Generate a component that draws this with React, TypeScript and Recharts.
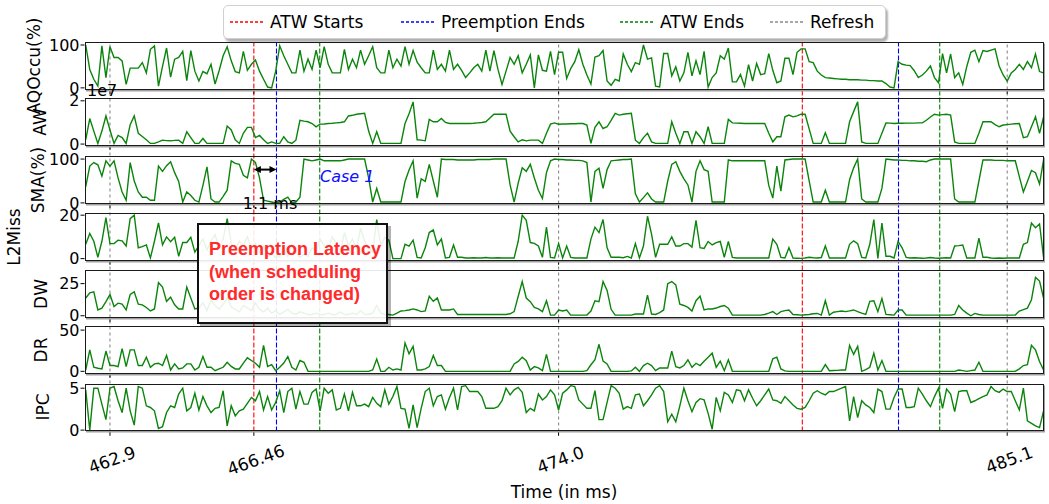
import React from "react"
import { LineChart, Line, XAxis, YAxis, ReferenceLine } from "recharts"

// trace is sampled every 0.1 ms starting at 462.3 ms
const T_START = 462.3
const T_STEP = 0.1
const X_DOMAIN: [number, number] = [462.27, 486.0]

const xTicks = [462.9, 466.46, 474.0, 485.1]
const xTickLabels = ["462.9", "466.46", "474.0", "485.1"]

// event markers (ms)
const atwStarts = [466.46, 480.03]
const preemptionEnds = [467.02, 482.41]
const atwEnds = [468.09, 483.43]
const refreshes = [462.9, 474.0, 485.1]
const legendNames = ["ATW Starts", "Preemption Ends", "ATW Ends", "Refresh"]

const panelNames = ["AQOccu(%)", "AW", "SMA(%)", "L2Miss", "DW", "DR", "IPC"]
const panelTicks = [[0, 100], [0, 2], [0, 100], [0, 20], [0, 25], [0, 50], [0, 5]]
const panelDomains: [number, number][] = [[-4.5, 107], [-0.08, 2.13], [-2, 107], [-1, 21], [-1.6, 35.6], [-3, 55], [-0.2, 5.5]]

const annotationLines = ["Preemption Latency", "(when scheduling", "order is changed)"]
const latencyLabel = "1.1 ms"
const caseLabel = "Case 1"
const latencyArrowLevel = 76 // SMA(%) level of the double arrow

const aqOccu = [
  100, 43, 20, 4, 98, 24, 96, 71, 71, 63,
  8, 46, 46, 46, 59, 35, 90, 98, 4, 50,
  93, 25, 67, 71, 85, 17, 87, 39, 16, 38,
  33, 55, 9, 40, 75, 96, 63, 38, 35, 85,
  41, 55, 65, 39, 20, 2, 0, 39, 98, 75,
  55, 35, 35, 88, 39, 67, 43, 88, 47, 96,
  55, 35, 35, 35, 90, 43, 67, 47, 88, 55,
  75, 96, 47, 35, 35, 88, 47, 67, 51, 96,
  55, 87, 60, 47, 35, 35, 88, 43, 55, 39,
  88, 43, 55, 41, 24, 35, 47, 55, 39, 88,
  39, 87, 43, 8, 39, 71, 55, 75, 35, 55,
  77, 0, 77, 41, 39, 85, 31, 83, 83, 22,
  45, 61, 89, 55, 30, 9, 72, 75, 87, 16,
  6, 20, 16, 79, 55, 38, 59, 55, 100, 67,
  70, 4, 2, 80, 80, 28, 49, 16, 35, 83,
  28, 63, 31, 85, 2, 24, 35, 75, 67, 93,
  14, 14, 31, 4, 54, 16, 57, 31, 33, 80,
  41, 12, 16, 69, 69, 31, 83, 91, 91, 61,
  59, 39, 30, 24, 23, 22, 21, 20, 20, 19,
  19, 19, 18, 18, 17, 17, 16, 16, 10, 2,
  0, 61, 55, 53, 52, 40, 24, 30, 39, 51,
  24, 12, 80, 35, 79, 24, 35, 8, 50, 83,
  88, 61, 87, 85, 88, 91, 51, 30, 16, 35,
  43, 55, 43, 61, 47, 79, 38, 35,
]

// AW in units of 1e7
const awE7 = [
  0.2, 1.18, 0.6, 0.03, 0.6, 1.3, 0.65, 0.03, 0.4, 0.3,
  0.03, 0.9, 1.3, 0.5, 0.35, 0.2, 0.03, 0.03, 0.1, 0.18,
  0.16, 0.15, 0.17, 0.18, 0.03, 0.57, 0.3, 0.03, 0.03, 0.26,
  0.03, 0.03, 0.03, 0.03, 0.03, 0.83, 0.65, 0.2, 0.03, 0.5,
  0.77, 0.77, 0.3, 0.4, 0.2, 0.03, 0.1, 0.03, 0.03, 0.34,
  0.1, 0.03, 0.18, 1.1, 1.06, 1.03, 0.95, 0.8, 0.92, 0.93,
  0.95, 0.96, 0.98, 1.0, 1.03, 1.3, 1.33, 1.38, 1.4, 1.42,
  0.6, 0.03, 0.57, 0.03, 0.03, 0.03, 0.03, 0.03, 0.03, 0.95,
  1.4, 1.95, 0.2, 0.18, 0.15, 1.14, 1.03, 1.03, 1.18, 1.0,
  0.95, 0.95, 0.95, 0.95, 0.95, 0.95, 0.96, 0.98, 1.0, 1.03,
  1.2, 1.38, 1.38, 1.38, 1.38, 0.6, 0.34, 0.1, 0.2, 0.15,
  0.18, 0.18, 0.18, 0.03, 0.5, 0.92, 0.98, 0.92, 0.93, 0.93,
  0.94, 0.94, 0.95, 0.95, 0.88, 0.03, 0.77, 1.03, 0.72, 0.8,
  1.1, 1.42, 1.34, 1.38, 1.4, 1.42, 0.18, 0.03, 0.3, 0.5,
  0.1, 0.03, 0.03, 0.03, 0.03, 1.03, 0.5, 0.03, 0.57, 0.57,
  0.03, 0.57, 0.34, 0.03, 0.8, 0.03, 0.03, 0.03, 0.03, 1.14,
  0.98, 0.97, 0.96, 0.95, 0.95, 0.95, 0.95, 0.95, 0.95, 0.5,
  0.1, 0.34, 0.34, 1.26, 1.34, 1.26, 1.3, 1.38, 1.38, 0.7,
  0.03, 0.03, 0.03, 0.52, 0.03, 0.03, 0.03, 0.03, 0.03, 1.03,
  1.5, 1.95, 0.1, 0.03, 0.03, 0.03, 0.03, 0.5, 0.98, 0.97,
  0.95, 0.96, 0.96, 0.97, 0.97, 0.97, 0.98, 0.98, 1.1, 1.25,
  1.38, 1.34, 1.36, 1.38, 1.34, 0.1, 0.03, 0.03, 0.03, 0.03,
  0.03, 0.5, 1.03, 1.03, 1.03, 0.9, 0.8, 0.88, 0.9, 0.92,
  0.94, 0.95, 0.3, 0.34, 0.8, 1.26, 0.5, 1.25,
]

const sma = [
  37, 84, 92, 87, 61, 96, 84, 96, 57, 25,
  6, 92, 50, 25, 13, 13, 6, 6, 84, 72,
  85, 94, 69, 49, 2, 25, 17, 6, 2, 40,
  82, 9, 2, 2, 15, 29, 96, 90, 88, 63,
  57, 100, 92, 57, 6, 4, 2, 0, 2, 8,
  13, 0, 2, 13, 100, 98, 96, 98, 100, 96,
  96, 96, 96, 96, 98, 100, 100, 100, 100, 100,
  57, 2, 33, 2, 2, 2, 2, 2, 2, 49,
  75, 96, 11, 55, 49, 88, 50, 13, 100, 99,
  99, 99, 98, 98, 98, 98, 98, 99, 99, 99,
  99, 100, 100, 100, 100, 41, 2, 45, 80, 72,
  88, 57, 29, 10, 69, 96, 100, 99, 99, 98,
  98, 97, 97, 96, 92, 2, 72, 79, 33, 76,
  96, 97, 98, 99, 99, 100, 21, 2, 12, 23,
  9, 2, 2, 2, 50, 88, 94, 72, 55, 41,
  2, 72, 96, 76, 72, 2, 2, 2, 2, 98,
  96, 96, 96, 96, 96, 96, 96, 96, 96, 40,
  11, 84, 27, 98, 99, 100, 100, 100, 100, 50,
  2, 2, 2, 29, 2, 2, 2, 2, 2, 53,
  80, 100, 9, 2, 2, 2, 2, 33, 100, 99,
  98, 98, 97, 97, 96, 96, 95, 95, 94, 98,
  100, 100, 100, 100, 100, 9, 2, 2, 2, 2,
  2, 50, 98, 98, 98, 97, 97, 97, 96, 96,
  96, 60, 25, 49, 74, 69, 43, 98,
]

const l2Miss = [
  6.6, 11.6, 8, 0.6, 8, 18.9, 6.9, 6.9, 8.5, 8.2,
  5.8, 18.4, 20, 5, 5.5, 6.3, 0.3, 8, 16.4, 6.3,
  10, 7.8, 9.8, 1.1, 7.4, 7.4, 9.8, 3, 6, 9,
  4, 8, 11, 5, 9, 18.4, 7, 4, 8, 6,
  10, 5, 7, 3, 6, 1, 2, 0.5, 1, 4,
  1, 6, 3, 0.5, 2, 1, 5, 3, 9, 6,
  4, 10, 7, 3, 12, 6, 9, 4, 14, 8,
  5, 3, 18, 6, 9.8, 8.5, 0, 0, 0, 6.6,
  5.8, 8.5, 0.6, 0.3, 5, 12, 13.2, 6.3, 9, 0.3,
  0.6, 6.3, 0.6, 0.6, 0.3, 0.3, 0.4, 0.3, 0.3, 0.5,
  0.3, 0.3, 0.4, 0.3, 0.3, 0.3, 0.3, 8, 20, 17.6,
  7.4, 7, 5.8, 0.6, 14.5, 0.6, 0.3, 6.9, 0.3, 5.8,
  0.6, 0.3, 0.3, 0.3, 0.3, 9, 14.5, 12, 18, 5,
  0.6, 0.6, 0.6, 0.4, 1, 0.3, 6.9, 0.3, 5.8, 19.5,
  11.3, 0.6, 6.6, 6.6, 6.6, 10, 5.8, 5.8, 6.9, 6.9,
  5.3, 17.6, 5, 4.7, 7.9, 6.3, 7.4, 7.9, 0.6, 7.9,
  0.6, 0.3, 0.3, 0.3, 0.3, 0.3, 0.3, 0.3, 0.3, 0.3,
  9, 6.6, 0.6, 0.3, 5, 0.3, 0.2, 0.1, 0.3, 0.6,
  0.4, 0.3, 0.5, 5.8, 0.3, 0.3, 0.3, 0.3, 0.3, 6.6,
  8.2, 6.9, 0.6, 0.3, 6.6, 18, 0.1, 16.4, 1.1, 1.1,
  0.3, 7.9, 5, 0.6, 0.3, 0.4, 0.3, 0.2, 0.3, 0.5,
  0.3, 0.2, 0.3, 0.4, 0.3, 5.8, 6, 6.3, 0.3, 0.3,
  0.3, 9.4, 0.6, 0.6, 0.3, 0.2, 0.3, 0.2, 0.3, 0.3,
  0.3, 0.3, 6.6, 7.4, 16.4, 14.2, 16, 0.6,
]

const dw = [
  13.8, 17.8, 18.6, 4.5, 5.9, 11, 16.5, 7.2, 9.8, 9,
  4.5, 16.5, 18.6, 9, 8.5, 6.4, 3.7, 5.3, 25.8, 22.3,
  11.2, 14.4, 8.5, 5.3, 5.3, 22.3, 13.8, 5.3, 6, 10,
  4, 12, 8, 5, 9, 14, 7, 5, 3, 8,
  6, 4, 10, 5, 3, 6, 2, 4, 1, 3,
  5, 2, 1, 3, 2, 1, 1, 2, 1, 1,
  2, 1, 1, 3, 1, 1, 2, 1, 4, 1,
  1, 2, 8, 2, 1, 1, 0.5, 2, 3.7, 4,
  4.5, 5.3, 4.5, 3.2, 3.7, 15.2, 11.2, 13.8, 4.5, 4.5,
  4.5, 5.3, 1, 1, 1, 1, 1, 1, 1, 1,
  1, 1, 1, 1, 1, 1.5, 3.2, 15, 26.6, 13.8,
  11, 6.4, 5.3, 3.2, 11.7, 0.5, 0.5, 4.5, 3.7, 4.5,
  0.5, 0.5, 0.5, 0.5, 0.5, 3.7, 11.7, 11, 26.6, 19.7,
  5, 0.5, 0.5, 0.5, 0.5, 0.5, 1.3, 1.3, 1.3, 16,
  1.3, 1, 2.5, 4.5, 25, 26.6, 24, 9, 8, 6.5,
  3.7, 11.7, 15.2, 4.5, 5.3, 5.3, 6, 7.2, 8, 5.9,
  0.5, 0.5, 0.5, 0.5, 0.5, 0.5, 0.5, 0.5, 1, 2,
  3.2, 1, 3.2, 4, 4.5, 1, 0.8, 0.5, 0.8, 1,
  1.5, 1.8, 0.5, 11.7, 0.5, 2.7, 3.2, 3.7, 3.2, 3.8,
  4.5, 3.2, 2, 1, 11.2, 11.7, 3.2, 13.3, 1, 0.8,
  0.5, 4.5, 4.5, 0.5, 0.5, 0.5, 0.5, 0.5, 0.5, 0.5,
  0.5, 0.5, 0.5, 0.5, 0.5, 1, 8, 4.5, 2, 0,
  1.8, 1, 0.5, 0.5, 0.5, 0.5, 0.5, 0.5, 0.5, 0.5,
  0.5, 3.7, 4.8, 5.9, 12.5, 29.8, 27, 13.8,
]

const dr = [
  1.6, 26, 4.9, 3.7, 2.9, 24.6, 7, 7, 5.7, 27.5,
  5.7, 26, 26, 7, 7, 17.2, 4.9, 9, 9.8, 7,
  19.3, 1.6, 9, 2.9, 4.1, 9, 9, 1.6, 4.9, 18,
  4.9, 4.9, 0.8, 2.9, 4.9, 11, 6, 2.9, 2.9, 10,
  16.4, 13.1, 9.8, 4.9, 31.5, 6, 8.2, 0.8, 4.9, 10,
  18, 4.9, 1.6, 13.1, 11, 0, 0, 0, 0, 0,
  0, 0, 0, 0, 0, 0, 0, 0, 0, 0,
  0, 1.6, 14.8, 0, 0, 4.9, 1.6, 2.9, 1.6, 34.4,
  21.3, 30.3, 1.6, 1.6, 3, 5.7, 19.3, 7, 7, 0,
  0, 0, 0, 0, 0, 0, 0, 0, 0, 0,
  0, 0, 0, 0, 0, 0, 9, 12, 17.2, 13,
  1.6, 5.7, 4.1, 0.8, 20.5, 0, 0, 0, 0, 0,
  0, 0, 0, 0, 0.8, 8, 14, 32.8, 12.3, 9,
  0, 0, 0, 0, 0, 0.5, 4.9, 0, 7, 9.8,
  7, 0.8, 4.1, 4.1, 4.1, 24.6, 5.7, 4.1, 7, 14,
  4.9, 9.8, 7, 12.3, 17, 22, 4.9, 12.3, 0.8, 14,
  0, 0, 0, 0, 0, 0, 0, 0, 0, 0,
  15.2, 17.2, 2.9, 0.5, 0, 0, 0, 0, 0, 0,
  0, 0, 0, 8.2, 0.8, 1, 1.2, 1.6, 1.6, 31.5,
  20.5, 30.3, 0, 2, 4.9, 22, 1.6, 13.1, 0, 0,
  0, 0, 0, 0, 0, 0, 0, 0, 0, 0,
  0, 0, 0, 0, 0, 0, 1.6, 0.8, 0, 0.8,
  1.6, 11, 0, 0, 0, 0, 0, 0, 0, 0,
  0, 3, 7, 8.2, 31.5, 26, 12, 1.6,
]

const ipc = [
  4.8, 0, 5, 5, 3.1, 1.25, 5, 5.2, 3.5, 2.1,
  5, 2.3, 0.6, 5.2, 5, 2.9, 2.7, 2.3, 0.2, 0.4,
  2.1, 2.9, 2.7, 4.3, 5, 2.3, 2.7, 4.4, 2.4, 4,
  2.9, 2.1, 2.6, 2.7, 4.7, 0.5, 2.9, 1.7, 2.3, 2.5,
  3.2, 3.9, 3.5, 4.6, 2.4, 4, 2.4, 3.3, 4.7, 2.1,
  4.6, 5, 2.5, 4.6, 3.1, 3.1, 4.5, 4.9, 2.3, 5,
  4.4, 4.8, 2.4, 2.6, 4.3, 2.3, 4.5, 2.9, 2.9, 3.1,
  2.8, 3.9, 3.2, 2.8, 4.8, 3.1, 4, 5.2, 2.6, 2.5,
  0.2, 3, 0.3, 2.6, 4.6, 5, 2.9, 4, 4.2, 2.5,
  3.9, 5, 2.4, 5.2, 5.3, 4.6, 4.6, 4.6, 4, 2.6,
  2.6, 2.6, 2.8, 3.5, 5, 4.2, 4.8, 5.1, 4.5, 2.1,
  2.6, 2.3, 4.3, 3.6, 4, 4.8, 4.2, 2.4, 4.4, 4.8,
  5.3, 5.2, 3.6, 3.1, 2.6, 2.6, 4.7, 1.25, 1.25, 3.3,
  5.3, 5, 4.4, 2.5, 2.8, 2.6, 4.2, 4.3, 2.9, 3.5,
  4.2, 5, 5.3, 4.6, 1, 1.9, 1, 2.9, 5, 3.5,
  2.2, 3.3, 3.75, 3.6, 2, 0.1, 3.9, 2.3, 4.5, 4.2,
  3.3, 4.8, 4.7, 3.5, 4.8, 3.8, 2.9, 3.5, 4.2, 4.9,
  3.6, 3.5, 3.2, 4, 3.5, 3, 2.6, 2.5, 2.7, 3.5,
  4.4, 4.7, 4.4, 4.2, 4.6, 4.6, 4.8, 5, 5.2, 1.1,
  4, 1.5, 3.5, 3, 2.7, 2.1, 4.9, 4.6, 2.5, 2.5,
  3.9, 4.9, 4.9, 2.7, 2.7, 2.8, 5, 4.3, 3.5, 2.8,
  4, 5, 2.6, 4.9, 4.3, 2.2, 4.6, 4.7, 4.7, 3.3,
  3.5, 3.75, 4, 4.2, 5.2, 4.7, 4.5, 4.9, 4.6, 4.6,
  3.5, 2.4, 5, 1.1, 0.8, 0.5, 0.3, 2.3,
]

const panelSeries = [aqOccu, awE7, sma, l2Miss, dw, dr, ipc]

// ---- layout / style ----
const W = 1049
const H = 504
const PLOT_LEFT = 84.5
const PLOT_RIGHT = 1043.6
const PANEL_TOPS = [41.8, 98.4, 156.2, 212.8, 270.3, 326, 383.5]
const PANEL_H = 47.8
const PAD = 10 // room above/below each panel so tick labels are not clipped
const LABEL_X = [34, 40, 38, 14, 41, 41, 43]
const LINE_GREEN = "#0b840b"
const MARKER_COLORS = ["#ff0000", "#0000ff", "#008000", "#8a8a8a"]
const MARKER_DASH = ["5 2", "5 2", "5 2", "3 3"]
const LEGEND_X = [6, 177, 396, 546]
const FONT = '"DejaVu Sans", Verdana, sans-serif'

const markerGroups = [atwStarts, preemptionEnds, atwEnds, refreshes]
const timeAt = (i: number) => Math.round((T_START + i * T_STEP) * 100) / 100
const timeRows = aqOccu.map((_, i) => ({ t: timeAt(i), v: 0 }))

const XTick = (props: any) => {
    const { x, y, payload } = props
    const idx = xTicks.findIndex(v => Math.abs(v - payload.value) < 1e-6)
    const cx = x + 2
    const cy = y + 22
    return (
        <text x={cx} y={cy} textAnchor="middle" dominantBaseline="central" fontSize={17} fill="#000"
            transform={`rotate(-20 ${cx} ${cy})`}>
            {idx >= 0 ? xTickLabels[idx] : payload.value}
        </text>
    )
}

const ArrowShape = (p: any) => {
    const { x1, y1, x2, y2 } = p
    const h = 7
    return (
        <g>
            <line x1={x1 + h - 1} y1={y1} x2={x2 - h + 1} y2={y2} stroke="#000" strokeWidth={2} />
            <path d={`M${x1},${y1} L${x1 + h},${y1 - 3.5} L${x1 + h},${y1 + 3.5} Z`} fill="#000" />
            <path d={`M${x2},${y2} L${x2 - h},${y2 - 3.5} L${x2 - h},${y2 + 3.5} Z`} fill="#000" />
        </g>
    )
}

function Panel({ k }: { k: number }) {
    const isLast = k === panelSeries.length - 1
    const xh = isLast ? 60 : PAD
    const rows = panelSeries[k].map((v, i) => ({ t: timeAt(i), v }))
    return (
        <div style={{ position: "absolute", left: 0, top: PANEL_TOPS[k] - PAD }}>
            <LineChart width={W} height={PANEL_H + PAD + xh} data={rows}
                margin={{ top: PAD, right: W - PLOT_RIGHT, bottom: 0, left: 0 }}>
                <XAxis type="number" dataKey="t" domain={X_DOMAIN} ticks={xTicks} interval={0}
                    allowDataOverflow height={xh} axisLine={false} tickSize={4}
                    tickLine={{ stroke: "#000" }}
                    tick={isLast ? XTick : undefined}
                    tickFormatter={isLast ? undefined : () => ""} />
                <YAxis domain={panelDomains[k]} ticks={panelTicks[k]} interval={0} allowDataOverflow
                    width={PLOT_LEFT} axisLine={false} tickSize={4} tickMargin={1}
                    tickLine={{ stroke: "#000" }} tick={{ fontSize: 16, fill: "#000" }} />
                <Line type="linear" dataKey="v" stroke={LINE_GREEN} strokeWidth={1.4}
                    dot={false} activeDot={false} isAnimationActive={false} />
                {k === 2 && (
                    <ReferenceLine
                        segment={[{ x: atwStarts[0], y: latencyArrowLevel }, { x: preemptionEnds[0], y: latencyArrowLevel }]}
                        shape={ArrowShape} />
                )}
            </LineChart>
            <div style={{
                position: "absolute", left: PLOT_LEFT, top: PAD, width: PLOT_RIGHT - PLOT_LEFT,
                height: PANEL_H, border: "1.3px solid #1a1a1a", boxSizing: "border-box",
                boxShadow: "1px 1.5px 0 #a0a0a0", pointerEvents: "none",
            }} />
            <div style={{
                position: "absolute", left: LABEL_X[k], top: PAD + PANEL_H / 2,
                transform: "translate(-50%, -50%) rotate(-90deg)", fontSize: 17,
                whiteSpace: "nowrap", lineHeight: 1, color: "#000",
            }}>{panelNames[k]}</div>
        </div>
    )
}

export default function App() {
    const overlayH = PANEL_TOPS[6] + PANEL_H - PANEL_TOPS[0]
    return (
        <div style={{ position: "absolute", left: 0, top: 0, width: W, height: H, background: "#fff", fontFamily: FONT, overflow: "hidden" }}>
            {/* event markers running through every panel (drawn underneath the traces) */}
            <div style={{ position: "absolute", left: 0, top: PANEL_TOPS[0] }}>
                <LineChart width={W} height={overlayH} data={timeRows}
                    margin={{ top: 0, right: W - PLOT_RIGHT, bottom: 0, left: PLOT_LEFT }}>
                    <XAxis type="number" dataKey="t" domain={X_DOMAIN} hide allowDataOverflow />
                    <YAxis hide domain={[0, 1]} />
                    <Line dataKey="v" stroke="none" dot={false} activeDot={false} isAnimationActive={false} />
                    {markerGroups.map((g, gi) => g.map(t => (
                        <ReferenceLine key={`${gi}-${t}`} x={t} stroke={MARKER_COLORS[gi]}
                            strokeDasharray={MARKER_DASH[gi]} strokeWidth={1.1} ifOverflow="visible" />
                    )))}
                </LineChart>
            </div>

            {panelSeries.map((_, k) => <Panel key={k} k={k} />)}

            {/* AW offset text */}
            <div style={{ position: "absolute", left: 87, top: 83, fontSize: 16, lineHeight: 1 }}>1e7</div>

            {/* latency arrow label and case label */}
            <div style={{ position: "absolute", left: 270, top: 204, transform: "translate(-50%, -50%)", fontSize: 16, lineHeight: 1, whiteSpace: "nowrap" }}>{latencyLabel}</div>
            <div style={{ position: "absolute", left: 320, top: 177, transform: "translateY(-50%)", fontSize: 16, lineHeight: 1, fontStyle: "italic", color: "#1010ff", whiteSpace: "nowrap" }}>{caseLabel}</div>

            {/* annotation box */}
            <div style={{
                position: "absolute", left: 197, top: 223, width: 191, height: 101,
                border: "2px solid #111", boxSizing: "border-box", background: "rgba(255,255,255,0.9)",
                boxShadow: "3px 3px 0 rgba(0,0,0,0.3)", padding: "13px 0 0 10px",
                fontFamily: '"Liberation Sans", Arial, sans-serif', fontWeight: 700, fontSize: 18,
                lineHeight: "22.5px", color: "#ff2a2a", whiteSpace: "nowrap",
            }}>
                {annotationLines.map(l => <div key={l}>{l}</div>)}
            </div>

            {/* x axis title */}
            <div style={{ position: "absolute", left: (PLOT_LEFT + PLOT_RIGHT) / 2, top: 492, transform: "translate(-50%, -50%)", fontSize: 17, lineHeight: 1, whiteSpace: "nowrap" }}>Time (in ms)</div>

            {/* legend */}
            <div style={{
                position: "absolute", left: 223, top: 5, width: 663, height: 34,
                border: "1px solid #d0d0d0", borderRadius: 5, background: "#fff",
                boxShadow: "2px 3px 2px rgba(0,0,0,0.3)", boxSizing: "border-box", fontSize: 17,
            }}>
                {legendNames.map((name, i) => (
                    <div key={name} style={{ position: "absolute", left: LEGEND_X[i], top: 0, height: 32, display: "flex", alignItems: "center", whiteSpace: "nowrap" }}>
                        <svg width={34} height={4} style={{ marginRight: 6 }}>
                            <line x1={0} y1={2} x2={34} y2={2} stroke={MARKER_COLORS[i]} strokeWidth={1.3} strokeDasharray="3 2" />
                        </svg>
                        <span>{name}</span>
                    </div>
                ))}
            </div>
        </div>
    )
}
